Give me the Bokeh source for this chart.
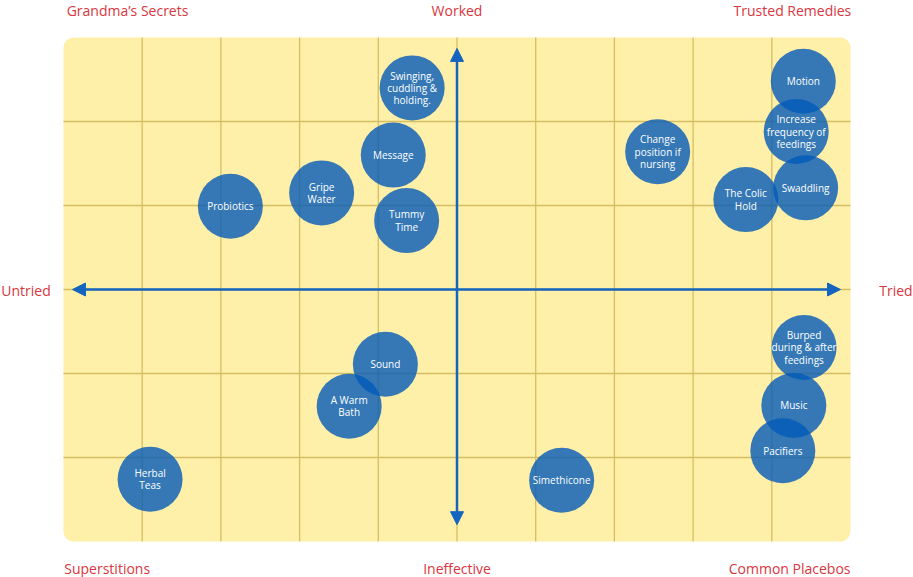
from bokeh.plotting import figure
from bokeh.models import Range1d, BoxAnnotation, Label, Arrow, NormalHead, ColumnDataSource
from bokeh.core.properties import value
from bokeh.embed import file_html
from bokeh.resources import INLINE

# ---- data ----
names = ["Swinging,\ncuddling &\nholding.", "Message", "Tummy\nTime", "Gripe\nWater", "Probiotics",
         "Change\nposition if\nnursing", "Motion", "Increase\nfrequency of\nfeedings", "Swaddling",
         "The Colic\nHold", "Sound", "A Warm\nBath", "Herbal\nTeas", "Simethicone",
         "Burped\nduring & after\nfeedings", "Music", "Pacifiers"]
tried = [-0.57, -0.81, -0.64, -1.72, -2.88, 2.55, 4.40, 4.31, 4.43, 3.67, -0.91, -1.37, -3.90, 1.33, 4.41, 4.28, 4.14]
worked = [2.40, 1.60, 0.82, 1.15, 0.99, 1.64, 2.48, 1.88, 1.21, 1.07, -0.89, -1.39, -2.26, -2.27, -0.69, -1.38, -1.92]

x_grid = [-4, -3, -2, -1, 0, 1, 2, 3, 4]
y_grid = [-2, -1, 0, 1, 2]

corner_labels = ["Grandma\u2019s Secrets", "Worked", "Trusted Remedies", "Untried", "Tried",
                 "Superstitions", "Ineffective", "Common Placebos"]

XMIN, XMAX, YMIN, YMAX = -5, 5, -3, 3

FONT = "Open Sans"
RED = "#d9363e"
BLUE = "#1565c0"
GRIDC = "#d6be62"

W, H = 913, 577
PX_X = 787 / 10.0
PX_Y = 504 / 6.0

p = figure(width=W, height=H, output_backend="svg", toolbar_location=None,
           x_range=Range1d(XMIN - 63 / PX_X, XMAX + 63 / PX_X),
           y_range=Range1d(YMIN - 36 / PX_Y, YMAX + 37 / PX_Y),
           min_border=0)
p.axis.visible = False
p.grid.visible = False
p.outline_line_color = None
p.background_fill_color = "white"
p.border_fill_color = "white"

box = BoxAnnotation(left=XMIN, right=XMAX, bottom=YMIN, top=YMAX, fill_color="#feefa9",
                    fill_alpha=1.0, line_color=None, border_radius=10, level="underlay")
p.add_layout(box)

# grid lines
p.segment(x0=x_grid, x1=x_grid, y0=[YMIN] * len(x_grid), y1=[YMAX] * len(x_grid),
          line_color=GRIDC, line_width=1.3)
p.segment(x0=[XMIN] * len(y_grid), x1=[XMAX] * len(y_grid), y0=y_grid, y1=y_grid,
          line_color=GRIDC, line_width=1.3)

# arrows
p.add_layout(Arrow(x_start=-4.886, y_start=0, x_end=4.873, y_end=0, line_color=BLUE, line_width=2.5,
                   start=NormalHead(size=13, fill_color=BLUE, line_color=BLUE),
                   end=NormalHead(size=13, fill_color=BLUE, line_color=BLUE)))
p.add_layout(Arrow(x_start=0, y_start=-2.80, x_end=0, y_end=2.87, line_color=BLUE, line_width=2.5,
                   start=NormalHead(size=13, fill_color=BLUE, line_color=BLUE),
                   end=NormalHead(size=13, fill_color=BLUE, line_color=BLUE)))

src = ColumnDataSource(dict(x=tried, y=worked, name=names))
p.circle(x="x", y="y", radius=32.5, radius_units="screen", source=src,
         fill_color="#035ab8", fill_alpha=0.8, line_color=None)
p.text(x="x", y="y", text="name", source=src, text_color="white", text_font=value(FONT),
       text_font_size="10px", text_align="center", text_baseline="middle", text_line_height=0.88)

# corner / side labels
lab_x = [-4.96, 0, 5.01, -5.79, 5.79, -4.99, 0, 5.0]
lab_y = [3.321, 3.321, 3.321, -0.012, -0.012, -3.321, -3.321, -3.321]
lab_align = ["left", "center", "right", "left", "right", "left", "center", "right"]
for t, lx, ly, la in zip(corner_labels, lab_x, lab_y, lab_align):
    p.add_layout(Label(x=lx, y=ly, text=t, text_color=RED, text_font=FONT, text_font_size="14px",
                       text_align=la, text_baseline="middle"))

open("out.html", "w").write(file_html(p, INLINE))
